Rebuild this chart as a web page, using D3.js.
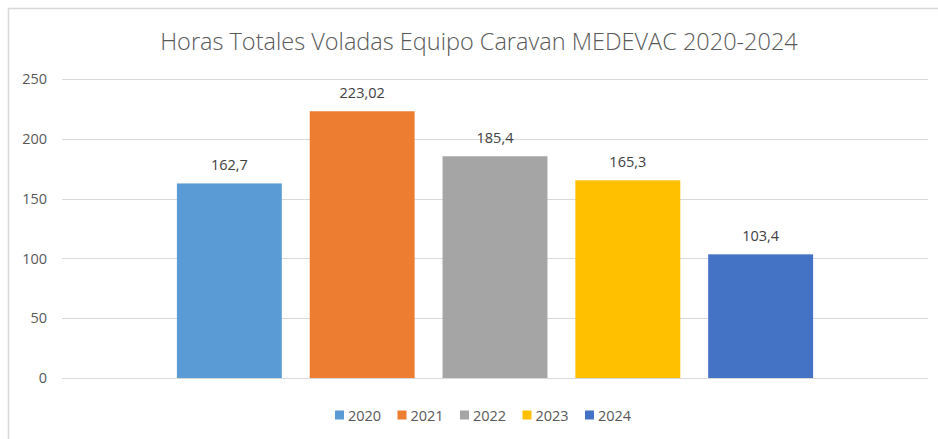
<!DOCTYPE html>
<html>
<head>
<meta charset="utf-8">
<script src="https://cdn.jsdelivr.net/npm/d3@7"></script>
<style>
  body { margin: 0; background: #fff; }
  text { font-family: "Open Sans", sans-serif; }
</style>
</head>
<body>
<script>
// chart data
var years = ["2020", "2021", "2022", "2023", "2024"];
var hours = [162.7, 223.02, 185.4, 165.3, 103.4];
var colors = ["#5B9BD5", "#ED7D31", "#A5A5A5", "#FFC000", "#4472C4"];
var yTicks = [0, 50, 100, 150, 200, 250];
var title = "Horas Totales Voladas Equipo Caravan MEDEVAC 2020-2024";

var width = 938, height = 439;
var plot = {left: 62, right: 928, top: 79, bottom: 378};

var svg = d3.select("body").append("svg")
  .attr("width", width)
  .attr("height", height);

// chart frame (cropped: only top and left edge visible)
svg.append("path")
  .attr("d", "M8.5,439V8.5H938")
  .attr("fill", "none")
  .attr("stroke", "#d9d9d9")
  .attr("stroke-width", 1.5);

var es = d3.formatLocale({decimal: ",", thousands: ".", grouping: [3], currency: ["", ""]});
var fmt = es.format("~g");

var x = d3.scaleBand()
  .domain(years)
  .range([plot.left, plot.right])
  .paddingInner(0.21)
  .paddingOuter(0.865);

var y = d3.scaleLinear()
  .domain([0, 250])
  .range([plot.bottom, plot.top]);

// gridlines
svg.append("g")
  .selectAll("line")
  .data(yTicks)
  .enter()
  .append("line")
  .attr("x1", plot.left)
  .attr("x2", plot.right)
  .attr("y1", function(d) { return Math.round(y(d)) + 0.5; })
  .attr("y2", function(d) { return Math.round(y(d)) + 0.5; })
  .attr("stroke", "#d9d9d9")
  .attr("stroke-width", 1.2);

// y axis labels
var yAxis = svg.append("g")
  .attr("transform", "translate(" + (plot.left - 15) + ",0)")
  .call(d3.axisLeft(y).tickValues(yTicks).tickSize(0).tickPadding(0));
yAxis.select(".domain").remove();
yAxis.selectAll("text")
  .attr("fill", "#595959")
  .style("font-size", "14.5px")
  .style("font-family", "'Open Sans', sans-serif");

// bars
var data = years.map(function(yr, i) { return {year: yr, value: hours[i], color: colors[i]}; });

svg.selectAll("rect.bar")
  .data(data)
  .enter()
  .append("rect")
  .attr("class", "bar")
  .attr("x", function(d) { return x(d.year); })
  .attr("y", function(d) { return y(d.value); })
  .attr("width", x.bandwidth())
  .attr("height", function(d) { return y(0) - y(d.value); })
  .attr("fill", function(d) { return d.color; });

// value labels
svg.selectAll("text.val")
  .data(data)
  .enter()
  .append("text")
  .attr("class", "val")
  .attr("x", function(d) { return x(d.year) + x.bandwidth() / 2; })
  .attr("y", function(d) { return y(d.value) - 13; })
  .attr("text-anchor", "middle")
  .attr("fill", "#404040")
  .style("font-size", "14.5px")
  .text(function(d) { return fmt(d.value); });

// title
svg.append("text")
  .attr("x", 479)
  .attr("y", 50)
  .attr("text-anchor", "middle")
  .attr("fill", "#595959")
  .style("font-size", "23.5px")
  .style("font-weight", 300)
  .text(title);

// legend
var legend = svg.append("g")
  .selectAll("g")
  .data(data)
  .enter()
  .append("g")
  .attr("transform", function(d, i) { return "translate(" + (335 + i * 62.5) + ",415)"; });

legend.append("rect")
  .attr("x", 0)
  .attr("y", -4.5)
  .attr("width", 9)
  .attr("height", 9)
  .attr("fill", function(d) { return d.color; });

legend.append("text")
  .attr("x", 13)
  .attr("y", 5.5)
  .attr("fill", "#595959")
  .style("font-size", "14.5px")
  .text(function(d) { return d.year; });
</script>
</body>
</html>
